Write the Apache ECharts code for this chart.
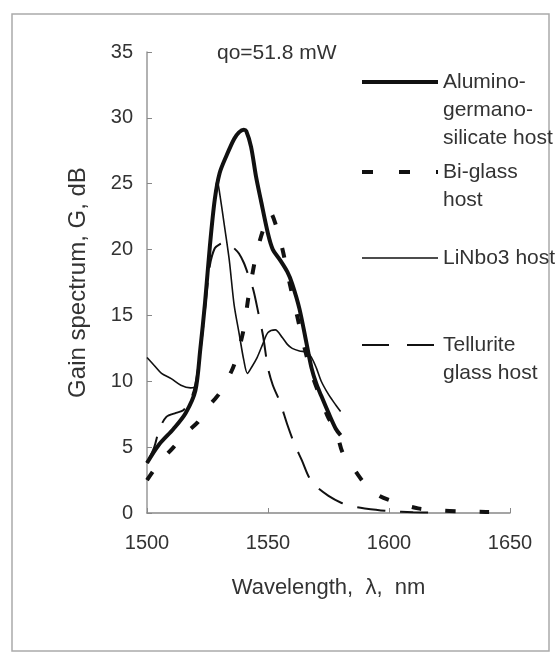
<!DOCTYPE html>
<html>
<head>
<meta charset="utf-8">
<script src="https://cdn.jsdelivr.net/npm/echarts@6/dist/echarts.min.js"></script>
<style>
html,body{margin:0;padding:0;background:#fff;}
#c{width:556px;height:658px;}
</style>
</head>
<body>
<div id="c"></div>
<script>
// ---- data ----
const seriesNames = ['Alumino-germano-silicate host', 'Bi-glass host', 'LiNbo3 host', 'Tellurite glass host'];
const legendLabels = ['Alumino-\ngermano-\nsilicate host', 'Bi-glass\nhost', 'LiNbo3 host', 'Tellurite\nglass host'];
const annotation = 'qo=51.8 mW';
const xTicks = [1500, 1550, 1600, 1650];
const yTicks = [0, 5, 10, 15, 20, 25, 30, 35];

const aluminoX = [1500,1505,1511,1516,1520,1522,1524,1526,1528,1530,1533,1536,1538,1540,1541,1543,1545,1547,1550,1552,1555,1558,1560,1563,1566,1568,1570,1572,1575,1578,1580];
const aluminoY = [3.8,5.2,6.4,7.6,9.3,12.4,16.0,20.3,23.8,25.8,27.2,28.4,28.9,29.1,29.0,27.8,25.6,23.8,21.2,20.0,19.2,18.3,17.4,15.5,12.8,11.0,9.8,8.9,7.6,6.4,5.9];

const biglassX = [1500,1505,1511,1515,1521,1525,1530,1535,1537,1540,1542,1545,1548,1551,1553,1556,1559,1562,1565,1568,1572,1575,1578,1581,1586,1591,1596,1603,1612,1620,1630,1640,1650];
const biglassY = [2.5,3.8,5.0,5.9,6.9,8.0,9.1,10.8,11.8,14.0,16.5,19.5,21.5,22.8,22.0,20.0,17.4,15.0,12.6,10.6,8.6,7.2,6.3,4.5,3.2,2.0,1.3,0.8,0.35,0.2,0.12,0.08,0.05];

const linboX = [1500,1503,1506,1510,1514,1518,1520,1522,1524,1526,1528,1529,1530,1532,1534,1536,1538,1540,1541.5,1543,1545.5,1548,1550,1553,1556,1558,1560,1563,1566,1568,1570,1572,1575,1578,1580];
const linboY = [11.8,11.2,10.6,10.2,9.7,9.5,9.6,12.4,16.2,20.3,23.8,25.3,24.3,21.8,19.2,15.8,13.7,11.6,10.6,11.0,11.8,12.9,13.7,13.9,13.3,12.8,12.5,12.3,12.2,11.8,11.0,10.0,9.0,8.2,7.7];

const telluriteX = [1500,1503,1505,1508,1512,1515,1518,1520,1522,1524,1526,1528,1530,1532,1534,1536,1538,1540,1542,1544,1546,1548,1550,1552,1555,1558,1561,1564,1567,1570,1575,1580,1585,1590,1600,1610,1620];
const telluriteY = [3.8,5.0,6.3,7.3,7.6,7.8,8.6,9.8,12.2,15.5,18.8,20.1,20.4,20.5,20.4,20.1,19.7,19.0,18.0,16.9,15.2,13.4,11.0,9.7,8.4,6.7,5.2,4.0,2.7,2.0,1.3,0.8,0.5,0.35,0.15,0.06,0.02];

function pairs(xs, ys){ return xs.map((x,i)=>[x, ys[i]]); }

const chart = echarts.init(document.getElementById('c'), null, {renderer:'canvas'});
const FONT = '"Liberation Sans", Arial, sans-serif';
const lineStyles = [
  {width:4, type:'solid'},
  {width:4, type:[10,24]},
  {width:1.6, type:'solid'},
  {width:2, type:[28,15]}
];
const legendDash = [null, [11,26], null, [27,18]];
const datasets = [pairs(aluminoX,aluminoY), pairs(biglassX,biglassY), pairs(linboX,linboY), pairs(telluriteX,telluriteY)];

// legend graphic
const legendY = [82, 172, 258, 345];
const legendGraphics = [];
legendLabels.forEach((lab, i) => {
  legendGraphics.push({
    type:'line', shape:{x1:362, y1:legendY[i], x2:438, y2:legendY[i]},
    style:{stroke:'#111', lineWidth: lineStyles[i].width, lineDash: legendDash[i]}
  });
  legendGraphics.push({
    type:'text', x:443, y:legendY[i]-14,
    style:{text:lab, font:'21px ' + FONT, fill:'#333', lineHeight:28, verticalAlign:'top', align:'left'}
  });
});

const option = {
  backgroundColor:'#fff',
  animation:false,
  grid:{left:147, right:46, top:52, bottom:145, containLabel:false},
  xAxis:{
    type:'value', min:1500, max:1650, interval:50,
    name:'Wavelength,  λ,  nm', nameLocation:'middle', nameGap:64,
    nameTextStyle:{fontFamily:FONT, fontSize:22, color:'#333'},
    axisLine:{lineStyle:{color:'#888', width:1.5}},
    axisTick:{show:true, inside:true, length:5, lineStyle:{color:'#888'}},
    axisLabel:{fontFamily:FONT, fontSize:20, color:'#333', margin:20,
      formatter: v => xTicks.includes(v) ? String(v) : ''},
    splitLine:{show:false}
  },
  yAxis:{
    type:'value', min:0, max:35, interval:5,
    name:'Gain spectrum, G, dB', nameLocation:'middle', nameGap:57, nameRotate:90,
    nameTextStyle:{fontFamily:FONT, fontSize:24, color:'#333'},
    axisLine:{show:true, lineStyle:{color:'#999', width:1.5}},
    axisTick:{show:true, inside:true, length:5, lineStyle:{color:'#888'}},
    axisLabel:{fontFamily:FONT, fontSize:20, color:'#333', margin:14,
      formatter: v => yTicks.includes(v) ? String(v) : ''},
    splitLine:{show:false}
  },
  series: datasets.map((d,i)=>({
    name: seriesNames[i], type:'line', data:d, showSymbol:false, symbol:'none',
    smooth:0.3, lineStyle:{color:'#111', width:lineStyles[i].width, type:lineStyles[i].type},
    z: 10 - i
  })),
  graphic:[
    {type:'rect', shape:{x:12, y:14, width:537, height:637}, style:{fill:null, stroke:'#aaa', lineWidth:1.5}, silent:true},
    {type:'text', x:217, y:53, style:{text:annotation, font:'21px ' + FONT, fill:'#333', verticalAlign:'middle', align:'left'}},
    ...legendGraphics
  ]
};
chart.setOption(option);
</script>
</body>
</html>
